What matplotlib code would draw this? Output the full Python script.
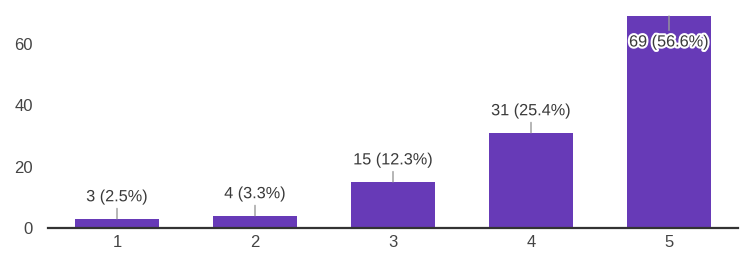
import matplotlib
matplotlib.use("Agg")
import matplotlib.pyplot as plt
from matplotlib import patheffects as pe

categories = ["1", "2", "3", "4", "5"]
counts = [3, 4, 15, 31, 69]
percents = [2.5, 3.3, 12.3, 25.4, 56.6]
yticks = [0, 20, 40, 60]

plt.rcParams['font.family'] = ['Liberation Sans', 'DejaVu Sans']

fig = plt.figure(figsize=(7.46, 2.58), dpi=100)
ax = fig.add_axes([48/746, (258-228)/258, 690/746, (228-16)/258])

x = list(range(1, len(categories) + 1))
ax.bar(x, counts, width=0.615, color="#673ab7", zorder=2)
ax.set_xlim(0.5, len(categories) + 0.5)
ax.set_ylim(0, max(counts))
ax.set_xticks(x)
ax.set_xticklabels(categories)
ax.set_yticks(yticks)
for s in ["top", "right", "left"]:
    ax.spines[s].set_visible(False)
ax.spines["bottom"].set_color("#333333")
ax.spines["bottom"].set_linewidth(1.6)
ax.spines["bottom"].set_zorder(3)
ax.tick_params(axis="both", length=0, labelsize=12, colors="#444444")
ax.tick_params(axis="x", pad=5)
ax.tick_params(axis="y", pad=11)

ymax = max(counts)
for xi, c, p in zip(x, counts, percents):
    label = f"{c} ({p}%)"
    off = -26 if c > ymax * 0.85 else 22
    ax.annotate(label, xy=(xi, c), xytext=(0, off), textcoords="offset pixels",
                ha="center", va="center", fontsize=11.7, color="#3a3a3a", zorder=5,
                path_effects=[pe.withStroke(linewidth=3, foreground="white")],
                arrowprops=dict(arrowstyle="-", color="#999999", lw=1, shrinkA=1, shrinkB=0),
                annotation_clip=False)

fig.savefig("out.png", dpi=100)
